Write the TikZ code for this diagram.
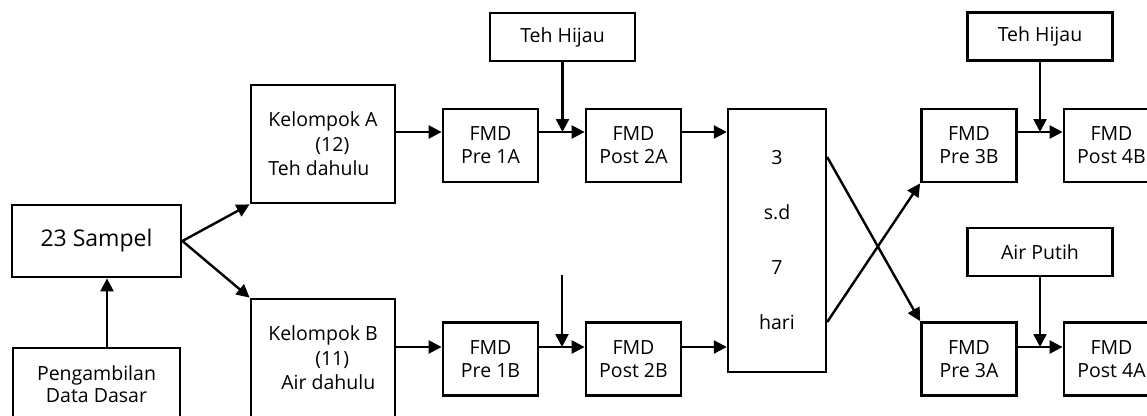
\documentclass[tikz,border=0pt]{standalone}
\usepackage{fontspec}
\setmainfont{Open Sans}
\usetikzlibrary{arrows.meta,calc}
\begin{document}
\begin{tikzpicture}[x=1pt,y=-1pt,
  box/.style={draw,line width=2.8pt,align=center,inner sep=0pt,font=\fontsize{19.5}{23}\selectfont},
  fmd/.style={box,minimum width=95pt,minimum height=73pt},
  top/.style={box,minimum width=145pt,minimum height=48pt},
  arr/.style={line width=2.4pt,-{Triangle[length=13pt,width=13pt]}}]
\useasboundingbox (0,0) rectangle (1147,415);
\clip (0,0) rectangle (1147,415);
% left part
\node[box,minimum width=169pt,minimum height=72pt,font=\fontsize{23}{26}\selectfont] (samp) at (96.5,241) {23 Sampel};
\node[box,minimum width=167pt,minimum height=72pt,font=\fontsize{19.5}{22}\selectfont] (peng) at (96.5,384) {Pengambilan\\Data Dasar};
\node[box,minimum width=144pt,minimum height=118pt,align=left,font=\fontsize{19.5}{24.5}\selectfont] (kelA) at (323,144) {Kelompok A\\\hspace*{47pt}(12)\\Teh dahulu};
\node[box,minimum width=144pt,minimum height=118pt,align=left,font=\fontsize{19.5}{24.5}\selectfont] (kelB) at (323,358) {Kelompok B\\\hspace*{47pt}(11)\\\hspace*{13pt}Air dahulu};
% first session
\node[fmd] (pre1A) at (490.5,145.5) {FMD\\Pre 1A};
\node[fmd] (post2A) at (633.5,145.5) {FMD\\Post 2A};
\node[top] (teh1) at (562.5,37) {Teh Hijau};
\node[fmd] (pre1B) at (490.5,359) {FMD\\Pre 1B};
\node[fmd] (post2B) at (633.5,359) {FMD\\Post 2B};
\coordinate (free) at (562,275);
% washout
\node[box,line width=2.4pt,minimum width=98pt,minimum height=263pt,font=\fontsize{19.5}{55}\selectfont] (big) at (777,240.5) {3\\s.d\\7\\hari};
% second session
\node[fmd] (pre3B) at (969,145.5) {FMD\\Pre 3B};
\node[fmd] (post4B) at (1111.5,145.5) {FMD\\Post 4B};
\node[top] (teh2) at (1040,36.5) {Teh Hijau};
\node[fmd] (pre3A) at (969,359) {FMD\\Pre 3A};
\node[fmd] (post4A) at (1111.5,359) {FMD\\Post 4A};
\node[top] (air) at (1040,252) {Air Putih};
% connectors
\draw[arr] ([xshift=10.5pt]peng.north) -- ([xshift=10.5pt]samp.south);
\draw[arr] (samp.east) -- (kelA.south west);
\draw[arr] (samp.east) -- (kelB.north west);
\draw[arr] (kelA.east |- 0,132) -- (pre1A.west |- 0,132);
\draw[arr] (pre1A.east |- 0,132) -- (post2A.west |- 0,132);
\draw[arr] (teh1.south) -- (teh1.south |- 0,132);
\draw[arr] (post2A.east |- 0,132) -- (big.west |- 0,132);
\draw[arr] (kelB.east |- 0,347) -- (pre1B.west |- 0,347);
\draw[arr] (pre1B.east |- 0,347) -- (post2B.west |- 0,347);
\draw[arr] (free) -- (free |- 0,347);
\draw[arr] (post2B.east |- 0,347) -- (big.west |- 0,347);
\draw[arr] (big.east |- 0,157) -- (pre3A.north west);
\draw[arr] (big.east |- 0,322) -- (pre3B.south west);
\draw[arr] (pre3B.east |- 0,132) -- (post4B.west |- 0,132);
\draw[arr] (teh2.south) -- (teh2.south |- 0,132);
\draw[arr] (pre3A.east |- 0,347) -- (post4A.west |- 0,347);
\draw[arr] (air.south) -- (air.south |- 0,347);
\end{tikzpicture}
\end{document}
